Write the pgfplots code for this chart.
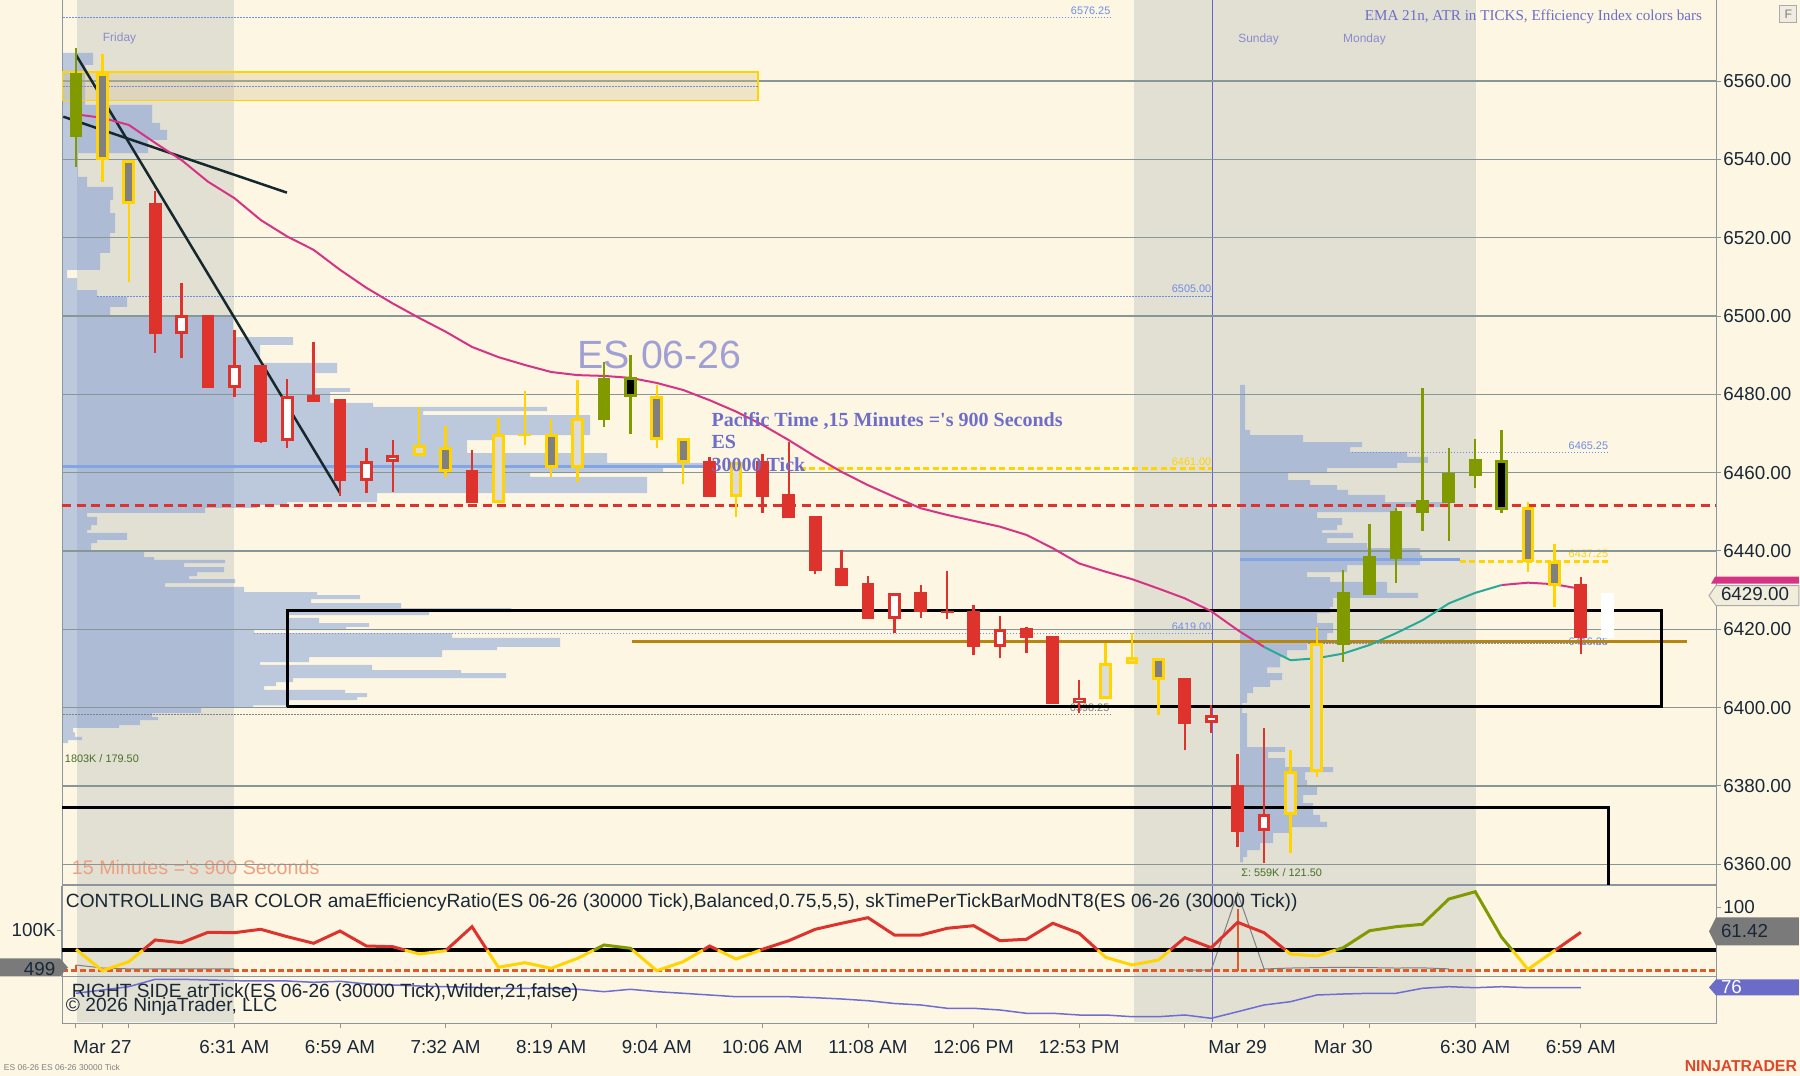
\documentclass[border=0pt]{standalone}
\usepackage{pgfplots}
\pgfplotsset{compat=1.18}
\usepackage{pgfplotstable}
\usepackage{fontspec}
\setmainfont{Liberation Sans}
\newfontfamily\serifb{Liberation Serif}
\newcommand{\fs}[1]{\fontsize{#1}{#1}\selectfont}
\pgfplotsset{/pgf/number format/assume math mode=true}

\definecolor{bgc}{RGB}{253,246,227}
\definecolor{sessc}{RGB}{226,224,211}
\definecolor{gridc}{RGB}{135,150,150}
\definecolor{axc}{RGB}{140,150,160}
\definecolor{labc}{RGB}{25,40,55}
\definecolor{cred}{RGB}{222,50,45}
\definecolor{cyel}{RGB}{255,212,0}
\definecolor{cgray}{RGB}{128,128,128}
\definecolor{clgray}{RGB}{220,220,218}
\definecolor{colive}{RGB}{128,154,0}
\definecolor{cmag}{RGB}{214,51,132}
\definecolor{cteal}{RGB}{40,170,150}
\definecolor{cnavy}{RGB}{20,40,45}
\definecolor{prof}{RGB}{100,140,215}
\definecolor{pocc}{RGB}{130,165,230}
\definecolor{dotb}{RGB}{110,140,230}
\definecolor{cgold}{RGB}{184,134,11}
\definecolor{vline}{RGB}{100,100,210}
\definecolor{txtp}{RGB}{110,110,200}
\definecolor{txtl}{RGB}{160,160,212}
\definecolor{dayc}{RGB}{138,138,205}
\definecolor{salmon}{RGB}{236,160,130}
\definecolor{cgreen}{RGB}{70,110,40}
\definecolor{atrc}{RGB}{110,110,210}
\definecolor{corange}{RGB}{226,90,40}
\definecolor{ninja}{RGB}{225,70,40}
\definecolor{zonef}{RGB}{215,195,140}
\definecolor{pbox}{RGB}{242,236,218}
\definecolor{pboxd}{RGB}{170,170,170}
\definecolor{gbox}{RGB}{122,122,122}
\definecolor{bbox}{RGB}{107,107,200}
\definecolor{fbox}{RGB}{240,236,225}

% candles: i low bodybottom bodytop high
\pgfplotstableread{
i lo bo bc hi
3 6490.6 6495.3 6528.8 6531.8
5 6481.5 6481.5 6500.3 6500.3
7 6467.5 6467.9 6487.5 6487.5
9 6478.0 6478.1 6479.8 6493.3
10 6454.0 6457.9 6478.7 6478.7
15 6452.2 6452.2 6460.7 6465.8
24 6453.8 6453.8 6463.0 6464.1
26 6449.6 6453.8 6463.0 6464.7
27 6448.3 6448.3 6454.5 6467.9
28 6434.0 6434.9 6448.9 6448.9
29 6431.0 6431.0 6435.6 6440.2
30 6422.5 6422.5 6431.9 6433.6
32 6423.0 6424.3 6429.4 6431.3
33 6422.5 6424.1 6424.7 6434.9
34 6413.4 6415.4 6424.7 6426.2
36 6414.0 6417.8 6420.2 6420.6
37 6400.8 6400.8 6418.4 6418.4
42 6389.1 6395.8 6407.5 6407.5
44 6364.4 6368.3 6380.2 6388.1
57 6413.7 6417.7 6431.5 6433.4
}\tRed
\pgfplotstableread{
i lo bo bc hi
4 6489.2 6495.4 6500.3 6508.4
6 6479.4 6481.7 6487.5 6496.4
8 6466.2 6468.1 6479.6 6483.8
11 6454.7 6457.9 6463.0 6466.2
12 6455.1 6462.8 6464.4 6468.3
31 6419.1 6422.6 6429.3 6429.3
35 6412.6 6415.5 6420.1 6423.4
38 6398.5 6401.1 6402.5 6407.0
43 6393.6 6396.0 6398.1 6400.6
45 6360.2 6368.5 6372.8 6394.7
}\tRedW
\pgfplotstableread{
i lo bo bc hi
1 6534.3 6539.8 6562.1 6567.0
2 6508.8 6528.5 6539.8 6539.8
14 6458.8 6460.2 6466.6 6471.9
18 6459.0 6461.3 6469.9 6473.7
22 6466.2 6468.3 6479.6 6482.4
23 6457.1 6462.5 6468.8 6468.8
41 6398.1 6407.0 6412.7 6412.7
55 6434.7 6437.2 6451.3 6452.4
56 6425.7 6431.0 6437.5 6441.8
}\tYel
\pgfplotstableread{
i lo bo bc hi
13 6464.2 6464.2 6467.0 6476.8
16 6452.3 6452.3 6469.8 6474.0
19 6457.7 6461.3 6473.9 6483.7
25 6448.7 6453.8 6462.8 6462.8
39 6402.1 6402.1 6411.3 6416.6
40 6411.1 6411.1 6413.0 6419.0
46 6362.9 6372.5 6383.9 6389.3
47 6382.3 6383.6 6416.4 6420.6
}\tYelL
\pgfplotstableread{
i lo bo bc hi
17 6467.1 6469.3 6469.9 6480.9
}\tYelS
\pgfplotstableread{
i lo bo bc hi
0 6538.1 6545.6 6562.1 6568.5
20 6471.6 6473.4 6484.1 6488.3
48 6411.7 6416.0 6429.5 6435.1
49 6428.7 6428.7 6438.7 6447.0
50 6431.9 6437.9 6450.2 6450.9
51 6445.2 6449.6 6453.0 6481.5
52 6442.6 6452.3 6459.8 6466.2
53 6456.0 6459.1 6463.4 6468.6
}\tGrn
\pgfplotstableread{
i lo bo bc hi
21 6469.9 6479.2 6484.3 6490.0
54 6449.6 6450.4 6463.2 6470.9
}\tGrnB
\pgfplotstableread{
i lo bo bc hi
58 6417.7 6417.7 6429.3 6429.3
}\tGhost

% volume profiles: width (px) and price outline
\pgfplotstableread{
w p
0 6567.2
30 6567.2
30 6564.1
22 6564.1
22 6553.9
89 6553.9
89 6549.3
97 6549.3
97 6547.5
104 6547.5
104 6545.0
85 6545.0
85 6541.6
15 6541.6
15 6535.5
24 6535.5
24 6533.0
50 6533.0
50 6529.6
47 6529.6
47 6526.3
52 6526.3
52 6521.2
47 6521.2
47 6516.1
37 6516.1
37 6511.8
4 6511.8
4 6509.7
14 6509.7
14 6506.6
34 6506.6
34 6504.9
64 6504.9
64 6502.3
47 6502.3
47 6499.7
170 6499.7
170 6494.6
230 6494.6
230 6492.6
197 6492.6
197 6488.0
274 6488.0
274 6485.4
250 6485.4
250 6481.6
287 6481.6
287 6480.6
267 6480.6
267 6477.8
310 6477.8
310 6476.8
484 6476.8
484 6475.7
360 6475.7
360 6474.7
527 6474.7
527 6469.6
434 6469.6
434 6468.3
404 6468.3
404 6465.0
544 6465.0
544 6462.5
642 6462.5
642 6461.2
600 6461.2
600 6459.9
467 6459.9
467 6458.9
584 6458.9
584 6454.8
314 6454.8
314 6452.5
224 6452.5
224 6451.7
194 6451.7
194 6451.0
142 6451.0
142 6449.7
24 6449.7
24 6448.7
34 6448.7
34 6446.6
28 6446.6
28 6445.3
24 6445.3
24 6444.6
64 6444.6
64 6442.8
34 6442.8
34 6442.0
28 6442.0
28 6440.2
81 6440.2
81 6438.4
91 6438.4
91 6437.7
162 6437.7
162 6436.9
121 6436.9
121 6435.9
161 6435.9
161 6434.6
134 6434.6
134 6433.6
126 6433.6
126 6432.8
172 6432.8
172 6431.8
102 6431.8
102 6430.8
181 6430.8
181 6429.5
254 6429.5
254 6428.7
297 6428.7
297 6427.7
248 6427.7
248 6426.7
338 6426.7
338 6425.4
448 6425.4
448 6424.4
366 6424.4
366 6423.6
223 6423.6
223 6422.9
256 6422.9
256 6421.6
306 6421.6
306 6420.6
283 6420.6
283 6419.8
191 6419.8
191 6419.0
389 6419.0
389 6417.8
497 6417.8
497 6415.5
434 6415.5
434 6414.7
379 6414.7
379 6412.9
246 6412.9
246 6411.6
197 6411.6
197 6410.9
309 6410.9
309 6409.6
398 6409.6
398 6408.8
443 6408.8
443 6407.5
230 6407.5
230 6406.5
213 6406.5
213 6405.5
201 6405.5
201 6404.5
282 6404.5
282 6403.7
304 6403.7
304 6402.7
294 6402.7
294 6401.9
225 6401.9
225 6400.6
190 6400.6
190 6399.9
138 6399.9
138 6398.6
89 6398.6
89 6397.6
95 6397.6
95 6396.8
77 6396.8
77 6395.5
56 6395.5
56 6394.8
10 6394.8
10 6393.7
12 6393.7
12 6392.5
19 6392.5
19 6391.7
5 6391.7
5 6390.9
0 6390.9
}\profL
\pgfplotstableread{
w p
0 6482.4
5 6482.4
5 6470.9
10 6470.9
10 6469.6
63 6469.6
63 6467.8
122 6467.8
122 6466.5
110 6466.5
110 6465.3
167 6465.3
167 6464.0
188 6464.0
188 6462.5
157 6462.5
157 6461.2
87 6461.2
87 6459.9
48 6459.9
48 6458.1
70 6458.1
70 6456.8
97 6456.8
97 6455.6
108 6455.6
108 6454.3
145 6454.3
145 6452.5
210 6452.5
210 6451.2
157 6451.2
157 6449.9
77 6449.9
77 6448.4
102 6448.4
102 6446.6
97 6446.6
97 6445.3
82 6445.3
82 6444.6
113 6444.6
113 6443.3
87 6443.3
87 6442.0
127 6442.0
127 6440.7
180 6440.7
180 6438.9
182 6438.9
182 6437.7
180 6437.7
180 6436.4
107 6436.4
107 6434.6
67 6434.6
67 6433.3
90 6433.3
90 6432.1
147 6432.1
147 6429.3
178 6429.3
178 6428.0
93 6428.0
93 6425.7
90 6425.7
90 6424.1
77 6424.1
77 6421.6
93 6421.6
93 6419.0
87 6419.0
87 6416.5
67 6416.5
67 6414.7
47 6414.7
47 6412.9
40 6412.9
40 6410.3
27 6410.3
27 6408.8
42 6408.8
42 6407.0
30 6407.0
30 6405.3
13 6405.3
13 6403.7
7 6403.7
7 6401.2
2 6401.2
2 6398.6
7 6398.6
7 6389.9
45 6389.9
45 6388.7
28 6388.7
28 6387.1
45 6387.1
45 6384.8
93 6384.8
93 6383.5
65 6383.5
65 6381.5
67 6381.5
67 6379.7
77 6379.7
77 6377.7
63 6377.7
63 6375.6
73 6375.6
73 6372.6
80 6372.6
80 6370.8
87 6370.8
87 6369.5
50 6369.5
50 6368.0
33 6368.0
33 6365.4
20 6365.4
20 6363.6
7 6363.6
7 6361.8
3 6361.8
3 6360.5
0 6360.5
}\profR

\newcommand{\cwick}[2]{\addplot[forget plot, draw=none, no markers, error bars/.cd, y dir=plus, y explicit, error mark=none, error bar style={line width=0.25mm, draw=#2}] table[x=i, y=lo, y error expr=\thisrow{hi}-\thisrow{lo}] {#1};}
\newcommand{\cbody}[2]{\addplot[forget plot, draw=none, no markers, error bars/.cd, y dir=plus, y explicit, error mark=none, error bar style={line width=1.27mm, draw=#2}] table[x=i, y=bo, y error expr=\thisrow{bc}-\thisrow{bo}] {#1};}
\newcommand{\cinner}[2]{\addplot[forget plot, draw=none, no markers, error bars/.cd, y dir=plus, y explicit, error mark=none, error bar style={line width=0.67mm, draw=#2, shorten <=0.3mm, shorten >=0.3mm}] table[x=i, y=bo, y error expr=\thisrow{bc}-\thisrow{bo}] {#1};}

\pgfplotsset{panel/.style={scale only axis, anchor=south west, width=16.54cm,
  xmin=-0.53, xmax=62.12,
  axis line style={draw=axc, line width=0.1mm},
  tick style={draw=axc, line width=0.1mm},
  tick align=outside, major tick length=0.5mm,
  tick label style={font=\fs{5.35pt}, text=labc}}}

\begin{document}
\begin{tikzpicture}
\useasboundingbox (0,0) rectangle (18cm,10.76cm);
\fill[bgc] (0,0) rectangle (18cm,10.76cm);
\begin{scope}[x=0.01cm,y=-0.01cm,shift={(0cm,10.76cm)}, every node/.style={inner sep=0pt, outer sep=0pt}]
\fill[sessc] (77,0) rectangle (234,1023);
\fill[sessc] (1135,0) rectangle (1477,1023);
\draw[vline, line width=0.1mm] (1213,0) -- (1213,1023);
\node[anchor=base west, font=\fs{3.4pt}, text=dayc] at (103,42) {Friday};
\node[anchor=base west, font=\fs{3.4pt}, text=dayc] at (1239,43) {Sunday};
\node[anchor=base west, font=\fs{3.4pt}, text=dayc] at (1344,43) {Monday};
\node[anchor=base east, font=\fs{3.1pt}, text=dotb] at (1111,15) {6576.25};
\node[anchor=base east, font=\fs{3.1pt}, text=dotb] at (1212,293) {6505.00};
\node[anchor=base east, font=\fs{3.1pt}, text=cyel] at (1212,466) {6461.00};
\node[anchor=base east, font=\fs{3.1pt}, text=dotb] at (1212,631) {6419.00};
\node[anchor=base east, font=\fs{3.1pt}, text=gray] at (1110,712) {6398.25};
\node[anchor=base east, font=\fs{3.1pt}, text=dotb] at (1609,450) {6465.25};
\node[anchor=base east, font=\fs{3.1pt}, text=cyel] at (1609,558) {6437.25};
\node[anchor=base east, font=\fs{3.1pt}, text=dotb] at (1609,646) {6416.25};
\node[anchor=base west, font=\fs{11.2pt}, text=txtl] at (578,369) {ES 06-26};
\node[anchor=base west, font=\fs{5.6pt}, text=salmon] at (72,875) {15 Minutes ='s 900 Seconds};
\node[anchor=base west, font=\fs{3.1pt}, text=cgreen] at (65,763) {1803K / 179.50};
\node[anchor=base west, font=\fs{3.1pt}, text=cgreen] at (1242,877) {Σ: 559K / 121.50};
\end{scope}

% left volume profile
\begin{axis}[at={(0.62cm,1.91cm)}, anchor=south west, scale only axis, width=16.54cm, height=8.85cm,
  xmin=-1, xmax=1653, ymin=6354.7, ymax=6580.7, hide axis]
\addplot[fill=prof, fill opacity=0.42, draw=none] table[x=w, y=p] {\profL};
\addplot[pocc, line width=0.3mm] coordinates {(0,6461.6) (642,6461.6)};
\end{axis}
% right volume profile
\begin{axis}[at={(0.62cm,1.91cm)}, anchor=south west, scale only axis, width=16.54cm, height=8.85cm,
  xmin=-1178, xmax=476, ymin=6354.7, ymax=6580.7, hide axis]
\addplot[fill=prof, fill opacity=0.42, draw=none] table[x=w, y=p] {\profR};
\addplot[pocc, line width=0.3mm] coordinates {(0,6437.7) (220,6437.7)};
\end{axis}

% main price panel
\begin{axis}[panel, at={(0.62cm,1.91cm)}, height=8.85cm,
  ymin=6354.7, ymax=6580.7,
  xtick=\empty, ytick={6360,6380,...,6560}, ytick pos=right, yticklabel pos=right,
  yticklabel style={xshift=-1mm},
  ymajorgrids, grid style={draw=gridc, line width=0.13mm},
  /pgf/number format/fixed, /pgf/number format/fixed zerofill,
  /pgf/number format/precision=2, /pgf/number format/1000 sep={}]
% zone
\addplot[draw=cyel, line width=0.15mm, fill=zonef, fill opacity=0.35] coordinates {(-0.53,6555.0) (25.83,6555.0) (25.83,6562.3) (-0.53,6562.3) (-0.53,6555.0)};
% dotted / dashed levels
\addplot[dotb, line width=0.1mm, dash pattern=on 0.15mm off 0.15mm] coordinates {(-0.49,6576.25) (39.17,6576.25)};
\addplot[dotb, line width=0.1mm, dash pattern=on 0.15mm off 0.15mm] coordinates {(-0.49,6558.6) (25.83,6558.6)};
\addplot[dotb, line width=0.1mm, dash pattern=on 0.15mm off 0.15mm] coordinates {(0.8,6505.0) (43.03,6505.0)};
\addplot[dotb, line width=0.1mm, dash pattern=on 0.15mm off 0.15mm] coordinates {(6.74,6419.0) (43.03,6419.0)};
\addplot[gray, line width=0.1mm, dash pattern=on 0.15mm off 0.15mm] coordinates {(-0.49,6398.25) (39.17,6398.25)};
\addplot[dotb, line width=0.1mm, dash pattern=on 0.15mm off 0.15mm] coordinates {(48.33,6465.25) (58.03,6465.25)};
\addplot[dotb, line width=0.1mm, dash pattern=on 0.15mm off 0.15mm] coordinates {(46.67,6416.25) (58.03,6416.25)};
\addplot[cyel, line width=0.25mm, dash pattern=on 0.6mm off 0.35mm] coordinates {(27.42,6461.0) (43.03,6461.0)};
\addplot[cyel, line width=0.25mm, dash pattern=on 0.6mm off 0.35mm] coordinates {(52.42,6437.25) (58.03,6437.25)};
\addplot[cred, line width=0.3mm, dash pattern=on 0.9mm off 0.55mm] coordinates {(-0.53,6451.65) (62.12,6451.65)};
\addplot[cgold, line width=0.3mm] coordinates {(21.06,6416.8) (61.02,6416.8)};
% boxes
\addplot[black, line width=0.3mm] coordinates {(8.01,6400.2) (60.06,6400.2) (60.06,6424.7) (8.01,6424.7) (8.01,6400.2)};
\addplot[black, line width=0.3mm] coordinates {(-0.53,6374.5) (58.03,6374.5) (58.03,6340)};
% trend lines
\addplot[cnavy, line width=0.25mm] coordinates {(0,6566.7) (10,6454.8)};
\addplot[cnavy, line width=0.25mm] coordinates {(-0.48,6550.9) (7.99,6531.5)};
% EMA 21
\addplot[cmag, line width=0.2mm] coordinates {(0,6551.5) (1,6550.6) (2,6548.8) (3,6544.2) (4,6539.8) (5,6534.3) (6,6530.1) (7,6524.5) (8,6520.3) (9,6516.9) (10,6511.8) (11,6507.2) (12,6503.2) (13,6499.5) (14,6496.0) (15,6492.1) (16,6489.5) (17,6487.5) (18,6485.7) (19,6484.9) (20,6484.7) (21,6484.2) (22,6482.9) (23,6481.1) (24,6478.5) (25,6475.6) (26,6472.2) (27,6468.3) (28,6464.1) (29,6460.2) (30,6456.8) (31,6453.8) (32,6450.9) (33,6449.2) (34,6447.7) (35,6446.2) (36,6444.1) (37,6440.7) (38,6436.8) (39,6434.7) (40,6432.8) (41,6430.4) (42,6427.9) (43,6424.6) (44,6419.8) (45,6415.5)};
\addplot[cteal, line width=0.2mm] coordinates {(45,6415.5) (46,6412.1) (47,6412.6) (48,6413.8) (49,6416.0) (50,6419.0) (51,6422.3) (52,6426.6) (53,6429.3) (54,6431.3)};
\addplot[cmag, line width=0.2mm] coordinates {(54,6431.3) (55,6431.9) (56,6431.5) (57,6430.3)};
% candles
\cwick{\tRed}{cred}
\cwick{\tRedW}{cred}
\cwick{\tYel}{cyel}
\cwick{\tYelL}{cyel}
\cwick{\tYelS}{cyel}
\cwick{\tGrn}{colive}
\cwick{\tGrnB}{colive}
\cbody{\tRed}{cred}
\cbody{\tRedW}{cred}
\cinner{\tRedW}{white}
\cbody{\tYel}{cyel}
\cinner{\tYel}{cgray}
\cbody{\tYelL}{cyel}
\cinner{\tYelL}{clgray}
\cbody{\tYelS}{cyel}
\cbody{\tGrn}{colive}
\cbody{\tGrnB}{colive}
\cinner{\tGrnB}{black}
\cbody{\tGhost}{white}
\end{axis}

% lower panel 1: skTimePerTick (left scale)
\begin{axis}[panel, at={(0.62cm,0.99cm)}, height=0.91cm,
  ymin=-14905, ymax=207590, axis x line=none, axis y line*=left,
  ytick={100000}, yticklabels={100K}, scaled y ticks=false,
  yticklabel style={xshift=1.1mm}]
\addplot[corange, line width=0.25mm, dash pattern=on 0.6mm off 0.3mm] coordinates {(-0.53,499) (62.12,499)};
\addplot[gray, line width=0.1mm] coordinates {(0,14400) (1,7100) (2,5000) (3,4650) (4,4650) (5,4650) (6,4650)};
\addplot[gray, line width=0.1mm] coordinates {(42,2000) (43,2200) (44,190500) (45,4650) (46,7000) (47,8000) (48,8800) (49,8000) (50,7000) (51,7500) (52,5000)};
\addplot[corange, ycomb, line width=0.2mm] coordinates {(0,14400) (44,151360)};
\end{axis}

% lower panel 1: efficiency ratio (right scale)
\begin{axis}[panel, at={(0.62cm,0.99cm)}, height=0.91cm,
  ymin=-9.9, ymax=133.4, xtick=\empty, ytick={100}, ytick pos=right, yticklabel pos=right,
  yticklabel style={xshift=-1mm}]
\addplot[black, line width=0.35mm] coordinates {(-0.53,32.6) (62.12,32.6)};
\addplot[cyel, line width=0.3mm] coordinates {(0,33.7) (1,0) (2,14.2) (2.54,32.6)};
\addplot[cred, line width=0.3mm] coordinates {(2.54,32.6) (3,48.4) (4,44.1) (5,60.5) (6,59.9) (7,65.2) (8,53.6) (9,43.2) (10,62.5) (11,38.9) (12,37.8) (12.45,32.6)};
\addplot[cyel, line width=0.3mm] coordinates {(12.45,32.6) (13,26.3) (14,31.5) (14.03,32.6)};
\addplot[cred, line width=0.3mm] coordinates {(14.03,32.6) (15,69.3) (15.57,32.6)};
\addplot[cyel, line width=0.3mm] coordinates {(15.57,32.6) (16,5.4) (17,12.6) (18,3.8) (19,19.5) (19.62,32.6)};
\addplot[colive, line width=0.3mm] coordinates {(19.62,32.6) (20,40.5) (21,35.3) (21.08,32.6)};
\addplot[cyel, line width=0.3mm] coordinates {(21.08,32.6) (22,0) (23,14.2) (23.75,32.6)};
\addplot[cred, line width=0.3mm] coordinates {(23.75,32.6) (24,38.9) (24.31,32.6)};
\addplot[cyel, line width=0.3mm] coordinates {(24.31,32.6) (25,18.4) (25.93,32.6)};
\addplot[cred, line width=0.3mm] coordinates {(25.93,32.6) (26,33.7) (27,47.3) (28,65.2) (29,74.7) (30,83.5) (31,56.2) (32,56.2) (33,66.8) (34,70.9) (35,47.3) (36,49.5) (37,74.7) (38,58.9) (38.70,32.6)};
\addplot[cyel, line width=0.3mm] coordinates {(38.70,32.6) (39,21.1) (40,9.0) (41,16.9) (41.45,32.6)};
\addplot[cred, line width=0.3mm] coordinates {(41.45,32.6) (42,52.0) (43,36.2) (44,76.2) (45,59.9) (45.81,32.6)};
\addplot[cyel, line width=0.3mm] coordinates {(45.81,32.6) (46,26.3) (47,23.2) (47.72,32.6)};
\addplot[colive, line width=0.3mm] coordinates {(47.72,32.6) (48,36.2) (49,63.0) (50,69.3) (51,73.1) (52,112.9) (53,124.4) (54,52.6) (54.40,32.6)};
\addplot[cyel, line width=0.3mm] coordinates {(54.40,32.6) (55,2.2) (56,31.5) (56.04,32.6)};
\addplot[cred, line width=0.3mm] coordinates {(56.04,32.6) (57,60.5)};
\end{axis}

% lower panel 2: ATR in ticks
\begin{axis}[panel, at={(0.62cm,0.53cm)}, height=0.46cm,
  ymin=40.7, ymax=86.7, ytick=\empty, xtick pos=bottom,
  xtick={1,6,10,14,18,22,26,30,34,38,44,48,53,57},
  xticklabels={Mar 27,6:31 AM,6:59 AM,7:32 AM,8:19 AM,9:04 AM,10:06 AM,11:08 AM,12:06 PM,12:53 PM,Mar 29,Mar 30,6:30 AM,6:59 AM},
  extra x ticks={0,2,42,43,45,49}, extra x tick labels={}]
\addplot[atrc, line width=0.15mm] coordinates {(0,70.4) (1,73.7) (2,77.0) (3,84.4) (4,84.4) (5,83.7) (6,83.0) (7,82.7) (8,82.7) (9,81.4) (10,82.4) (11,79.7) (12,78.7) (13,77.7) (14,77.0) (15,76.4) (16,75.4) (17,75.4) (18,75.4) (19,74.4) (20,72.0) (21,74.4) (22,72.0) (23,70.4) (24,68.7) (25,67.0) (26,67.0) (27,67.0) (28,66.0) (29,64.7) (30,63.0) (31,60.2) (32,58.7) (33,55.4) (34,55.4) (35,53.7) (36,50.4) (37,50.4) (38,48.7) (39,48.7) (40,47.0) (41,47.0) (42,48.7) (43,45.4) (44,52.0) (45,58.7) (46,62.0) (47,68.7) (48,69.7) (49,70.4) (50,70.4) (51,75.4) (52,77.0) (53,76.0) (54,77.0) (55,76.0) (56,76.0) (57,76.0)};
\end{axis}

% overlays: texts and value boxes
\begin{scope}[x=0.01cm,y=-0.01cm,shift={(0cm,10.76cm)}, every node/.style={inner sep=0pt, outer sep=0pt}]
\node[anchor=base east, font=\serifb\fs{4.3pt}, text=txtp] at (1703,20.5) {EMA 21n, ATR in TICKS, Efficiency Index colors bars};
\node[anchor=base west, font=\serifb\bfseries\fs{5.7pt}, text=txtp] at (712,427) {Pacific Time ,15 Minutes ='s 900 Seconds};
\node[anchor=base west, font=\serifb\bfseries\fs{5.7pt}, text=txtp] at (712,449) {ES};
\node[anchor=base west, font=\serifb\bfseries\fs{5.7pt}, text=txtp] at (712,472) {30000 Tick};
\fill[cmag] (1712,584) -- (1716,577) -- (1800,577) -- (1800,584) -- cycle;
\filldraw[fill=pbox, draw=pboxd, line width=0.1mm] (1710,596) -- (1717,586) -- (1800,586) -- (1800,606) -- (1717,606) -- cycle;
\node[anchor=base west, font=\fs{5.35pt}, text=labc] at (1722,601) {6429.00};
\fill[gbox] (1710,932) -- (1717,918) -- (1800,918) -- (1800,946) -- (1717,946) -- cycle;
\node[anchor=base west, font=\fs{5.35pt}, text=labc] at (1722,938) {61.42};
\fill[bbox] (1710,988) -- (1717,980) -- (1800,980) -- (1800,996) -- (1717,996) -- cycle;
\node[anchor=base west, font=\fs{5.35pt}, text=white] at (1722,994) {76};
\fill[gbox] (0,959) -- (60,959) -- (68,968) -- (60,977) -- (0,977) -- cycle;
\node[anchor=base west, font=\fs{5.35pt}, text=labc] at (24,976) {499};
\node[anchor=base west, font=\fs{5.45pt}, text=labc] at (66,908) {CONTROLLING BAR COLOR amaEfficiencyRatio(ES 06-26 (30000 Tick),Balanced,0.75,5,5), skTimePerTickBarModNT8(ES 06-26 (30000 Tick))};
\node[anchor=base west, font=\fs{5.45pt}, text=labc] at (72,998) {RIGHT SIDE atrTick(ES 06-26 (30000 Tick),Wilder,21,false)};
\node[anchor=base west, font=\fs{5.45pt}, text=labc] at (66,1012) {© 2026 NinjaTrader, LLC};
\node[anchor=base west, font=\fs{2.4pt}, text=gray] at (4,1071) {ES 06-26 ES 06-26 30000 Tick};
\node[anchor=base east, font=\bfseries\fs{4.5pt}, text=ninja] at (1798,1072) {NINJATRADER};
\filldraw[fill=fbox, draw=pboxd, line width=0.1mm] (1781,6) rectangle (1798,23);
\node[font=\fs{3.5pt}, text=gray] at (1789.5,14.5) {F};
\end{scope}
\end{tikzpicture}
\end{document}
